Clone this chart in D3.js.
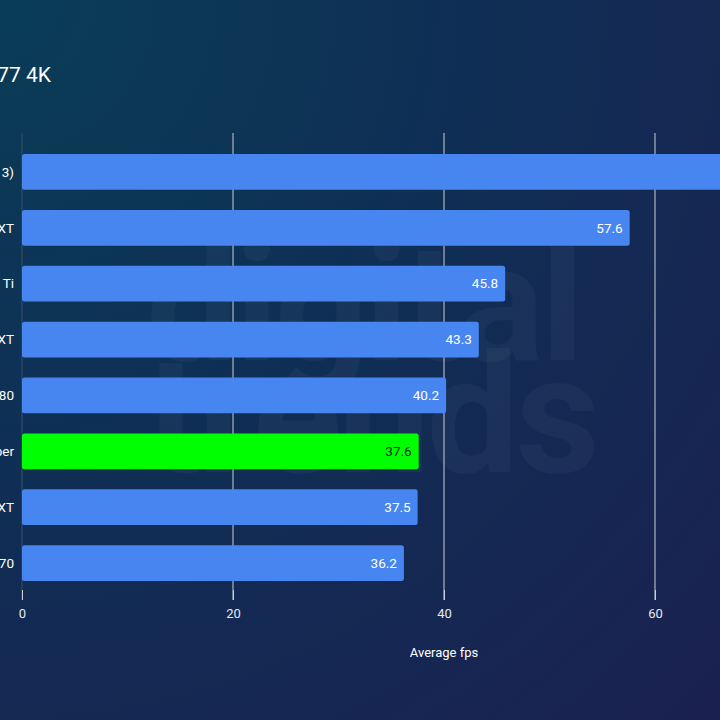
<!DOCTYPE html>
<html>
<head>
<meta charset="utf-8">
<script src="https://cdn.jsdelivr.net/npm/d3@7"></script>
<style>
  html, body { margin: 0; padding: 0; background: #0f2c52; }
  svg { display: block; }
</style>
</head>
<body>
<svg id="chart" width="720" height="720"></svg>
<script>
// Chart data (the picture is a crop, so labels run off the left edge)
var gpus = ["RTX 4070 Super (DLSS 3)", "RX 7900 XT", "RTX 4070 Ti", "RX 7800 XT",
            "RTX 3080", "RTX 4070 Super", "RX 7700 XT", "RTX 4070"];
var fps = [70.4, 57.6, 45.8, 43.3, 40.2, 37.6, 37.5, 36.2];
var highlighted = ["RTX 4070 Super"];
var xTicks = [0, 20, 40, 60];

var svg = d3.select("#chart");

// Background: teal glow in the top-left corner fading to navy
var defs = svg.append("defs");
var grad = defs.append("radialGradient")
    .attr("id", "bg")
    .attr("gradientUnits", "userSpaceOnUse")
    .attr("cx", 0).attr("cy", 0).attr("r", 1000);
grad.append("stop").attr("offset", "0%").attr("stop-color", "#093d56");
grad.append("stop").attr("offset", "45%").attr("stop-color", "#0f2f55");
grad.append("stop").attr("offset", "100%").attr("stop-color", "#1a2150");
svg.append("rect").attr("width", 720).attr("height", 720).attr("fill", "url(#bg)");

// Faint watermark
var wm = svg.append("g")
    .style("font-family", "Roboto, 'Open Sans', sans-serif")
    .style("font-weight", "bold")
    .style("fill", "#ffffff")
    .style("fill-opacity", 0.035);
wm.append("text").attr("x", 146).attr("y", 360).style("font-size", "165px").style("letter-spacing", "-4px").text("digital");
wm.append("text").attr("x", 146).attr("y", 472).style("font-size", "165px").style("letter-spacing", "-4px").text("trends");

// Scales
var x = d3.scaleLinear().domain([0, 60]).range([22, 655]);
var y = d3.scaleBand().domain(gpus).range([144, 591]).paddingInner(0.36).paddingOuter(0.18);

// Gridlines
svg.append("g").selectAll("line")
    .data(xTicks)
    .join("line")
    .attr("x1", function(d) { return x(d); })
    .attr("x2", function(d) { return x(d); })
    .attr("y1", 133)
    .attr("y2", 600)
    .attr("stroke", function(d) { return d === 0 ? "#3b4f6e" : "#c9ced8"; })
    .attr("stroke-width", 1);

// Bars
svg.append("g").selectAll("rect")
    .data(gpus)
    .join("rect")
    .attr("x", x(0))
    .attr("y", function(d) { return y(d); })
    .attr("width", function(d, i) { return x(fps[i]) - x(0); })
    .attr("height", y.bandwidth())
    .attr("rx", 2.5)
    .attr("fill", function(d) { return highlighted.indexOf(d) >= 0 ? "#00ff00" : "#4785f0"; });

// Value labels inside bar ends
svg.append("g").selectAll("text")
    .data(gpus)
    .join("text")
    .attr("x", function(d, i) { return x(fps[i]) - 7; })
    .attr("y", function(d) { return y(d) + y.bandwidth() / 2; })
    .attr("dy", "0.35em")
    .attr("text-anchor", "end")
    .style("font-family", "Roboto, sans-serif")
    .style("font-size", "13.5px")
    .style("fill", function(d) { return highlighted.indexOf(d) >= 0 ? "#0a2a12" : "#ffffff"; })
    .text(function(d, i) { return fps[i].toFixed(1); });

// Category labels (right aligned, mostly off-canvas)
svg.append("g").selectAll("text")
    .data(gpus)
    .join("text")
    .attr("x", 14)
    .attr("y", function(d) { return y(d) + y.bandwidth() / 2; })
    .attr("dy", "0.35em")
    .attr("text-anchor", "end")
    .style("font-family", "Roboto, sans-serif")
    .style("font-size", "13.5px")
    .style("fill", "#ffffff")
    .text(function(d) { return d; });

// Bottom axis
var axis = svg.append("g")
    .attr("transform", "translate(0,590)")
    .call(d3.axisBottom(x).tickValues(xTicks).tickSize(10).tickPadding(9));
axis.select(".domain").remove();
axis.selectAll(".tick line").attr("stroke", "#c9ced8");
axis.selectAll(".tick text")
    .style("font-family", "Roboto, sans-serif")
    .style("font-size", "13px")
    .style("fill", "#e6e9ef");

// Axis title
svg.append("text")
    .attr("x", x(40))
    .attr("y", 657)
    .attr("text-anchor", "middle")
    .style("font-family", "Roboto, sans-serif")
    .style("font-size", "13px")
    .style("fill", "#ffffff")
    .text("Average fps");

// Chart title (starts off the left edge)
svg.append("text")
    .attr("x", 51)
    .attr("y", 82)
    .attr("text-anchor", "end")
    .style("font-family", "Roboto, sans-serif")
    .style("font-size", "21px")
    .style("fill", "#ffffff")
    .text("Cyberpunk 2077 4K");
</script>
</body>
</html>
